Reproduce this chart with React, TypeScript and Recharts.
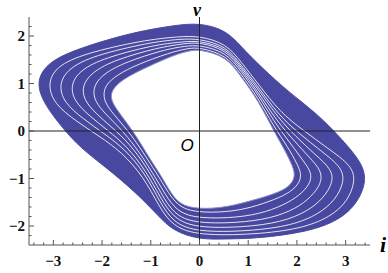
import { Scatter, ScatterChart, XAxis, YAxis } from "recharts";

// tick positions (minor every 0.2, labelled on the integers)
const I_TICKS = [
  -3.4, -3.2, -3, -2.8, -2.6, -2.4, -2.2, -2, -1.8, -1.6, -1.4, -1.2, -1, -0.8,
  -0.6, -0.4, -0.2, 0, 0.2, 0.4, 0.6, 0.8, 1, 1.2, 1.4, 1.6, 1.8, 2, 2.2, 2.4,
  2.6, 2.8, 3, 3.2, 3.4,
];
const V_TICKS = [
  -2.2, -2, -1.8, -1.6, -1.4, -1.2, -1, -0.8, -0.6, -0.4, -0.2, 0, 0.2, 0.4,
  0.6, 0.8, 1, 1.2, 1.4, 1.6, 1.8, 2, 2.2,
];

// the i = 0 and v = 0 axes drawn through the plot
const AXIS_I: [number, number][] = [[-3.5, 0], [3.5, 0]];
const AXIS_V: [number, number][] = [[0, -2.4], [0, 2.4]];

// outer edge of the attractor band, (i, v)
const OUTER: [number, number][] = [
  [0, 2.28], [0.55, 2.12], [0.85, 1.78], [1.25, 1.36], [1.85, 0.8],
  [2.4, 0.38], [2.95, -0.2], [3.34, -0.68], [3.43, -1.06], [3.24, -1.52],
  [2.87, -1.88], [2.2, -2.13], [1.2, -2.26], [0.6, -2.27], [0, -2.29],
  [-0.55, -2.1], [-0.85, -1.78], [-1.3, -1.3], [-1.9, -0.78], [-2.45, -0.35],
  [-2.8, 0.05], [-3.18, 0.55], [-3.36, 1.02], [-3.14, 1.42], [-2.6, 1.7],
  [-1.45, 2.06], [-0.55, 2.22],
];

// inner edge (the hole)
const INNER: [number, number][] = [
  [0, 1.72], [0.55, 1.57], [0.85, 1.15], [1.2, 0.65], [1.5, 0.05],
  [1.75, -0.4], [1.92, -0.75], [1.97, -0.97], [1.84, -1.18], [1.57, -1.31],
  [1.2, -1.43], [0.7, -1.57], [0.25, -1.64], [-0.25, -1.62], [-0.52, -1.44],
  [-0.75, -1.0], [-1.0, -0.62], [-1.3, -0.1], [-1.55, 0.25], [-1.77, 0.55],
  [-1.84, 0.76], [-1.72, 0.97], [-1.45, 1.16], [-1.05, 1.36], [-0.5, 1.61],
  [-0.2, 1.69],
];

// thin light gaps between bundles of orbits (spread in the lobes)
const GAP_1: [number, number][] = [
  [0, 2.0], [0.55, 1.84], [0.85, 1.46], [1.22, 0.97], [1.66, 0.39],
  [2.11, 0.03], [2.64, -0.37], [3.13, -0.73], [3.2, -1.06], [3.04, -1.48],
  [2.69, -1.81], [2.08, -2.06], [1.13, -2.18], [-0.02, -2.2], [-0.55, -2.01],
  [-0.83, -1.59], [-1.15, -0.96], [-1.6, -0.44], [-2.07, -0.1], [-2.51, 0.19],
  [-2.99, 0.57], [-3.12, 1.0], [-2.94, 1.36], [-2.37, 1.63], [-1.17, 1.91],
  [-0.41, 1.99],
];
const GAP_2: [number, number][] = [
  [0, 1.94], [0.55, 1.79], [0.85, 1.39], [1.22, 0.91], [1.63, 0.33],
  [2.04, -0.05], [2.51, -0.43], [2.93, -0.77], [2.97, -1.08], [2.79, -1.45],
  [2.45, -1.75], [1.9, -1.99], [1.03, -2.11], [-0.05, -2.13], [-0.54, -1.93],
  [-0.81, -1.5], [-1.12, -0.89], [-1.54, -0.37], [-1.98, -0.04], [-2.38, 0.25],
  [-2.79, 0.6], [-2.89, 0.99], [-2.69, 1.32], [-2.17, 1.59], [-1.05, 1.86],
  [-0.38, 1.94],
];
const GAP_3: [number, number][] = [
  [0, 1.9], [0.55, 1.75], [0.85, 1.35], [1.22, 0.86], [1.61, 0.28],
  [1.98, -0.12], [2.38, -0.5], [2.72, -0.81], [2.74, -1.09], [2.54, -1.42],
  [2.22, -1.69], [1.69, -1.92], [0.9, -2.03], [-0.08, -2.04], [-0.53, -1.84],
  [-0.8, -1.41], [-1.1, -0.84], [-1.49, -0.32], [-1.89, 0.02], [-2.25, 0.31],
  [-2.58, 0.63], [-2.65, 0.98], [-2.44, 1.29], [-1.95, 1.54], [-0.95, 1.81],
  [-0.34, 1.88],
];
const GAP_4: [number, number][] = [
  [0, 1.87], [0.55, 1.71], [0.85, 1.31], [1.21, 0.81], [1.58, 0.22],
  [1.93, -0.19], [2.26, -0.56], [2.51, -0.84], [2.5, -1.11], [2.29, -1.39],
  [1.99, -1.63], [1.48, -1.84], [0.75, -1.94], [-0.12, -1.94], [-0.53, -1.75],
  [-0.79, -1.31], [-1.07, -0.78], [-1.44, -0.26], [-1.8, 0.08], [-2.13, 0.37],
  [-2.38, 0.66], [-2.41, 0.97], [-2.19, 1.25], [-1.73, 1.5], [-0.84, 1.76],
  [-0.31, 1.84],
];
const GAP_5: [number, number][] = [
  [0, 1.81], [0.55, 1.66], [0.85, 1.26], [1.21, 0.76], [1.55, 0.16],
  [1.87, -0.26], [2.13, -0.63], [2.31, -0.88], [2.27, -1.12], [2.05, -1.36],
  [1.73, -1.56], [1.24, -1.75], [0.59, -1.84], [-0.16, -1.83], [-0.52, -1.64],
  [-0.78, -1.2], [-1.05, -0.73], [-1.4, -0.21], [-1.71, 0.14], [-2.0, 0.43],
  [-2.18, 0.69], [-2.17, 0.97], [-1.95, 1.22], [-1.52, 1.45], [-0.74, 1.71],
  [-0.28, 1.79],
];
const GAP_6: [number, number][] = [
  [0, 1.76], [0.55, 1.6], [0.85, 1.2], [1.2, 0.7], [1.52, 0.1],
  [1.81, -0.33], [2.01, -0.7], [2.1, -0.92], [2.03, -1.14], [1.8, -1.33],
  [1.45, -1.48], [0.94, -1.65], [0.4, -1.72], [-0.21, -1.7], [-0.51, -1.52],
  [-0.76, -1.09], [-1.02, -0.67], [-1.35, -0.15], [-1.63, 0.2], [-1.88, 0.49],
  [-1.98, 0.72], [-1.94, 0.96], [-1.7, 1.18], [-1.28, 1.4], [-0.61, 1.65],
  [-0.24, 1.74],
];
const GAPS = [GAP_1, GAP_2, GAP_3, GAP_4, GAP_5, GAP_6];

const BLUE = "#4848a0";
const FRAME = "#555";
const SERIF = "'Liberation Serif', 'Times New Roman', serif";

const pts = (loop: [number, number][]) => loop.map(([x, y]) => ({ x, y }));
const noDot = () => <g />;
const fmt = (v: number) => (v < 0 ? `\u2212${Math.abs(v)}` : `${v}`);
const isMajor = (v: number) => Number.isInteger(v);

function BottomTick({ x, y, payload }: any) {
  const major = isMajor(payload.value);
  return (
    <g>
      <line x1={x} x2={x} y1={y} y2={y - (major ? 5 : 2.5)} stroke={FRAME} />
      {major && (
        <text x={x} y={y + 21} textAnchor="middle" fontFamily={SERIF}
          fontWeight="bold" fontSize={15} fill="#111">
          {fmt(payload.value)}
        </text>
      )}
    </g>
  );
}

function TopTick({ x, y, payload }: any) {
  const major = isMajor(payload.value);
  return <line x1={x} x2={x} y1={y} y2={y + (major ? 5 : 2.5)} stroke={FRAME} />;
}

function LeftTick({ x, y, payload }: any) {
  const major = isMajor(payload.value);
  return (
    <g>
      <line x1={x} x2={x + (major ? 5 : 2.5)} y1={y} y2={y} stroke={FRAME} />
      {major && (
        <text x={x - 4} y={y + 5} textAnchor="end" fontFamily={SERIF}
          fontWeight="bold" fontSize={15} fill="#111">
          {fmt(payload.value)}
        </text>
      )}
    </g>
  );
}

function RightTick({ x, y, payload }: any) {
  const major = isMajor(payload.value);
  return <line x1={x} x2={x - (major ? 5 : 2.5)} y1={y} y2={y} stroke={FRAME} />;
}

const gapLine = { stroke: "#fff", strokeWidth: 1, strokeOpacity: 0.85 };
const axisLine = { stroke: "#222", strokeWidth: 1 };

export default function App() {
  return (
    <div style={{ position: "relative", width: 388, height: 273, background: "#fff" }}>
      <style>{`body{margin:0}`}</style>
      <ScatterChart width={388} height={273}
        margin={{ top: 17, right: 18, bottom: 0, left: 0 }}>
        <XAxis xAxisId="b" dataKey="x" type="number" domain={[-3.5, 3.5]}
          ticks={I_TICKS} interval={0} height={28} tickSize={0} tickMargin={0}
          tick={BottomTick} stroke={FRAME} />
        <XAxis xAxisId="t" orientation="top" dataKey="x" type="number"
          domain={[-3.5, 3.5]} ticks={I_TICKS} interval={0} height={0}
          tickSize={0} tickMargin={0} tick={TopTick} stroke={FRAME} />
        <YAxis yAxisId="l" dataKey="y" type="number" domain={[-2.4, 2.4]}
          ticks={V_TICKS} interval={0} width={29} tickSize={0} tickMargin={0}
          tick={LeftTick} stroke={FRAME} />
        <YAxis yAxisId="r" orientation="right" dataKey="y" type="number"
          domain={[-2.4, 2.4]} ticks={V_TICKS} interval={0} width={0}
          tickSize={0} tickMargin={0} tick={RightTick} stroke={FRAME} />

        <Scatter xAxisId="b" yAxisId="l" data={pts(OUTER)} shape={noDot}
          fill={BLUE} line={{ fill: BLUE, stroke: BLUE, strokeWidth: 1 }}
          lineJointType="basisClosed" isAnimationActive={false} />
        <Scatter xAxisId="b" yAxisId="l" data={pts(INNER)} shape={noDot}
          fill="#fff" line={{ fill: "#fff", stroke: "#8a8ac4", strokeWidth: 1 }}
          lineJointType="basisClosed" isAnimationActive={false} />
        {GAPS.map((g, k) => (
          <Scatter key={k} xAxisId="b" yAxisId="l" data={pts(g)} shape={noDot}
            fill="#fff" line={gapLine} lineJointType="basisClosed"
            isAnimationActive={false} />
        ))}

        <Scatter xAxisId="b" yAxisId="l" data={pts(AXIS_I)} shape={noDot}
          fill="#222" line={axisLine} isAnimationActive={false} />
        <Scatter xAxisId="b" yAxisId="l" data={pts(AXIS_V)} shape={noDot}
          fill="#222" line={axisLine} isAnimationActive={false} />
      </ScatterChart>
      <svg width={388} height={273}
        style={{ position: "absolute", left: 0, top: 0, pointerEvents: "none" }}>
        <text x={197} y={16} textAnchor="middle" fontFamily={SERIF}
          fontStyle="italic" fontWeight="bold" fontSize={18}>v</text>
        <text x={383} y={252} textAnchor="middle" fontFamily={SERIF}
          fontStyle="italic" fontWeight="bold" fontSize={22}>i</text>
        <text x={187} y={151} textAnchor="middle"
          fontFamily="'Liberation Sans', Arial, sans-serif" fontStyle="italic"
          fontSize={17}>O</text>
      </svg>
    </div>
  );
}
